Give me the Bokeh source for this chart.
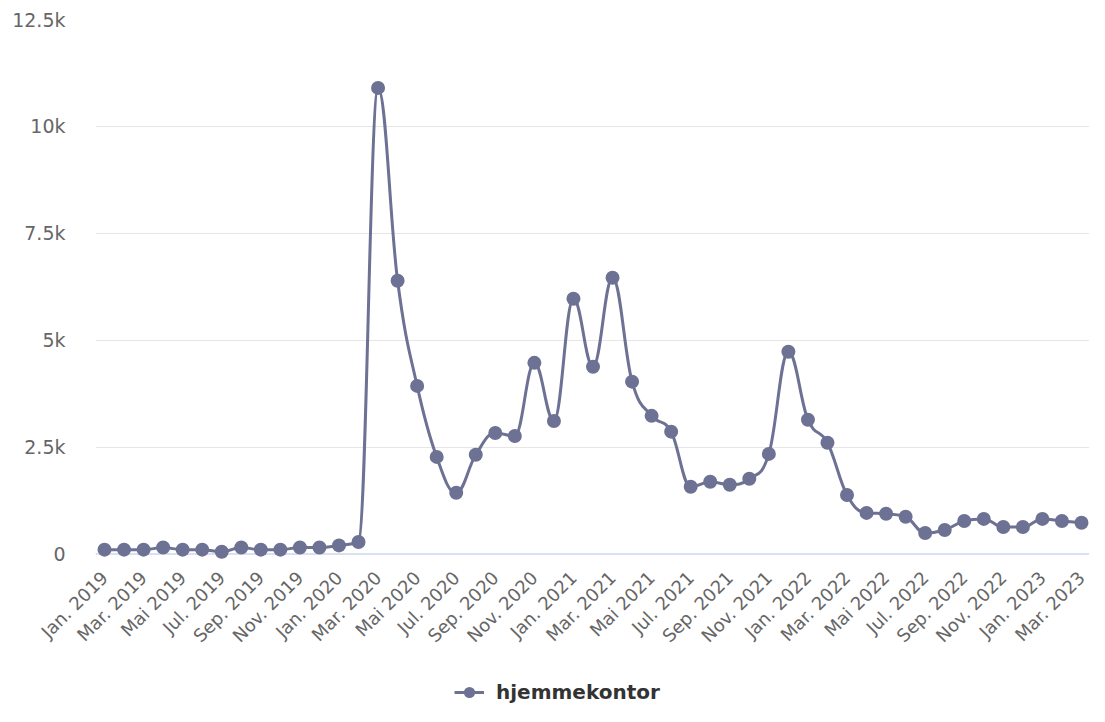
import math
from bokeh.plotting import figure
from bokeh.layouts import column
from bokeh.models import Range1d, FixedTicker, Span, Legend, LegendItem, ColumnDataSource
from bokeh.embed import file_html
from bokeh.resources import INLINE

months = ["Jan.", "Feb.", "Mar.", "Apr.", "Mai", "Jun.", "Jul.", "Aug.", "Sep.", "Okt.", "Nov.", "Des."]
categories = [f"{months[m]} {y}" for y in range(2019, 2024) for m in range(12)][:51]

values = [100, 100, 100, 150, 100, 100, 50, 150, 100, 100, 150, 150,
          200, 280, 10900, 6390, 3930, 2270, 1430, 2320, 2830, 2760, 4470, 3110,
          5970, 4380, 6460, 4030, 3230, 2860, 1570, 1690, 1620, 1760, 2340, 4730,
          3140, 2600, 1380, 960, 940, 870, 490, 560, 770, 820, 630, 630,
          820, 770, 730]

y_ticks = [0, 2500, 5000, 7500, 10000, 12500]
y_tick_labels = ["0", "2.5k", "5k", "7.5k", "10k", "12.5k"]
series_name = "hjemmekontor"

COLOR = "#6d7193"
FONT = "DejaVu Sans"

xs = list(range(len(values)))
ys = values

# Highcharts-style spline control points (smoothing 1.5)
def spline_segments(xs, ys, smoothing=1.5):
    n = len(xs)
    denom = smoothing + 1
    lc = [None] * n
    rc = [None] * n
    for i in range(1, n - 1):
        px, py = xs[i], ys[i]
        lx, ly = xs[i - 1], ys[i - 1]
        nx, ny = xs[i + 1], ys[i + 1]
        lcx = (smoothing * px + lx) / denom
        lcy = (smoothing * py + ly) / denom
        rcx = (smoothing * px + nx) / denom
        rcy = (smoothing * py + ny) / denom
        if rcx != lcx:
            corr = ((rcy - lcy) * (rcx - px)) / (rcx - lcx) + py - rcy
            lcy += corr
            rcy += corr
        if lcy > ly and lcy > py:
            lcy = max(ly, py)
            rcy = 2 * py - lcy
        elif lcy < ly and lcy < py:
            lcy = min(ly, py)
            rcy = 2 * py - lcy
        if rcy > ny and rcy > py:
            rcy = max(ny, py)
            lcy = 2 * py - rcy
        elif rcy < ny and rcy < py:
            rcy = min(ny, py)
            lcy = 2 * py - rcy
        lc[i] = (lcx, lcy)
        rc[i] = (rcx, rcy)
    seg = dict(x0=[], y0=[], x1=[], y1=[], cx0=[], cy0=[], cx1=[], cy1=[])
    for i in range(1, n):
        c0 = rc[i - 1] if rc[i - 1] is not None else (xs[i - 1], ys[i - 1])
        c1 = lc[i] if lc[i] is not None else (xs[i], ys[i])
        seg["x0"].append(xs[i - 1]); seg["y0"].append(ys[i - 1])
        seg["x1"].append(xs[i]); seg["y1"].append(ys[i])
        seg["cx0"].append(c0[0]); seg["cy0"].append(c0[1])
        seg["cx1"].append(c1[0]); seg["cy1"].append(c1[1])
    return seg

seg_src = ColumnDataSource(spline_segments(xs, ys))
pt_src = ColumnDataSource(dict(x=xs, y=ys))

p = figure(width=1089, height=666,
           x_range=Range1d(-0.461, 50.41), y_range=Range1d(-200, 12500),
           output_backend="svg", toolbar_location=None,
           min_border_left=95, min_border_right=0, min_border_top=19, min_border_bottom=104)
p.outline_line_color = None
p.background_fill_color = "white"
p.border_fill_color = "white"

# grid
p.xgrid.visible = False
p.ygrid.ticker = FixedTicker(ticks=y_ticks[1:])
p.ygrid.grid_line_color = "#e6e6e6"
p.ygrid.grid_line_width = 1

zero = Span(location=0, dimension="width", line_color="#ccd6eb", line_width=1.5, level="underlay")
p.add_layout(zero)

# axes
p.yaxis.ticker = FixedTicker(ticks=y_ticks)
p.yaxis.major_label_overrides = {t: l for t, l in zip(y_ticks, y_tick_labels)}
p.yaxis.axis_line_color = None
p.yaxis.major_tick_line_color = None
p.yaxis.minor_tick_line_color = None
p.yaxis.major_tick_out = 0
p.yaxis.major_label_standoff = 30
p.yaxis.major_label_text_font = FONT
p.yaxis.major_label_text_font_size = "19px"
p.yaxis.major_label_text_color = "#666666"

x_ticks = list(range(0, len(categories), 2))
p.xaxis.ticker = FixedTicker(ticks=x_ticks)
p.xaxis.major_label_overrides = {i: categories[i] for i in x_ticks}
p.xaxis.major_label_orientation = math.pi / 4
p.xaxis.axis_line_color = None
p.xaxis.major_tick_line_color = None
p.xaxis.minor_tick_line_color = None
p.xaxis.major_tick_out = 0
p.xaxis.major_tick_in = 0
p.xaxis.major_label_standoff = 12
p.xaxis.major_label_text_font = FONT
p.xaxis.major_label_text_font_size = "18px"
p.xaxis.major_label_text_color = "#666666"

p.bezier(x0="x0", y0="y0", x1="x1", y1="y1", cx0="cx0", cy0="cy0",
         cx1="cx1", cy1="cy1", source=seg_src, line_color=COLOR, line_width=3)
p.scatter(x="x", y="y", source=pt_src, size=14, fill_color=COLOR, line_color=None)

# Legend strip below the chart (separate figure so the legend is not clipped)
lg = figure(width=1089, height=40, x_range=Range1d(0, 1), y_range=Range1d(0, 1),
            output_backend="svg", toolbar_location=None,
            x_axis_location=None, y_axis_location=None, min_border=0)
lg.outline_line_color = None
lg.xgrid.visible = False
lg.ygrid.visible = False
# hidden renderers that only provide the legend swatch
lg_line = lg.line(x="x", y="y", source=pt_src, line_color=COLOR, line_width=3, visible=False)
lg_pts = lg.scatter(x="x", y="y", source=pt_src, size=14, fill_color=COLOR, line_color=None, visible=False)

legend = Legend(items=[LegendItem(label=series_name, renderers=[lg_line, lg_pts])],
                location=(359, 0), orientation="horizontal",
                padding=0, margin=0, spacing=0, glyph_width=30, glyph_height=28,
                label_standoff=12, border_line_color=None, background_fill_alpha=0,
                label_text_font=FONT, label_text_font_size="20px",
                label_text_font_style="bold", label_text_color="#333333")
lg.add_layout(legend, "center")

layout = column(p, lg, spacing=0)
open("out.html", "w").write(file_html(layout, INLINE))
